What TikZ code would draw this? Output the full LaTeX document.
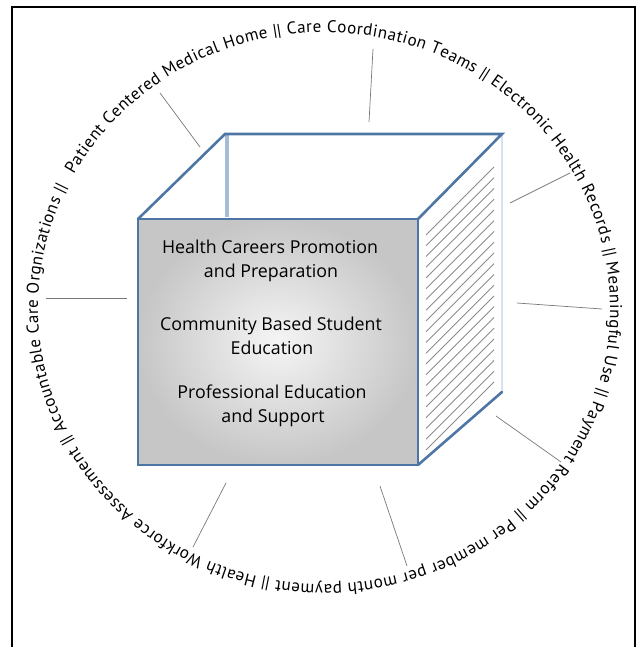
\documentclass[tikz,border=0pt]{standalone}
\usepackage{fontspec}
\setmainfont{PT Sans}
\newfontfamily\facefont{Open Sans}
\usetikzlibrary{decorations.text}
\definecolor{edgeblue}{RGB}{78,118,165}
\definecolor{lightedge}{RGB}{165,188,215}
\definecolor{paleedge}{RGB}{215,226,238}
\definecolor{hatchgray}{RGB}{140,140,140}
\definecolor{leadgray}{RGB}{120,120,120}
\definecolor{faceouter}{RGB}{198,198,198}
\definecolor{faceinner}{RGB}{245,245,245}
\begin{document}
\begin{tikzpicture}[x=1pt,y=1pt,
  frame/.style={draw=black, line width=2.6pt},
  cubeedge/.style={draw=edgeblue, line width=2.6pt, line cap=round},
  hiddenedge/.style={draw=lightedge, line width=3.5pt},
  backedge/.style={draw=paleedge, line width=2pt},
  hatchline/.style={draw=hatchgray, line width=0.9pt},
  leader/.style={draw=leadgray, line width=0.7pt},
  facetext/.style={font=\facefont\fontsize{17.8}{21}\selectfont, anchor=base, inner sep=0pt}
]
\useasboundingbox (0,0) rectangle (639,-647);
% outer frame (bottom edge lies below the picture)
\draw[frame] (12,-7) rectangle (635,-680);

% hatch on right face
\foreach \k in {0,...,20}{
  \draw[hatchline] (426,{-235-10.75*\k}) -- ++(68,68);
}
% right back vertical edge
\draw[backedge] (502,-134) -- (502,-392);
% hidden vertical edge
\draw[hiddenedge] (227,-134) -- (227,-217);
% top face edges
\draw[cubeedge] (138,-219) -- (225,-134) -- (502,-134) -- (418,-219);
% right face bottom edge
\draw[cubeedge] (418,-465) -- (502,-392);
% front face
\shade[inner color=faceinner, outer color=faceouter] (138,-219) rectangle (418,-465);
\draw[draw=edgeblue, line width=2pt] (138,-219) rectangle (418,-465);

% front face texts
\node[facetext] (t1) at (270,-253) {Health Careers Promotion};
\node[facetext] (t2) at (271,-277) {and Preparation};
\node[facetext] (t3) at (271,-330) {Community Based Student};
\node[facetext] (t4) at (272,-354) {Education};
\node[facetext] (t5) at (272,-398) {Professional Education};
\node[facetext] (t6) at (273,-422) {and Support};

% leader lines
\coordinate (a1) at (160,-93);  \coordinate (b1) at (200,-147);
\coordinate (a2) at (373,-49);  \coordinate (b2) at (369,-122);
\coordinate (a3) at (570,-173); \coordinate (b3) at (510,-203);
\coordinate (a4) at (602,-309); \coordinate (b4) at (517,-303);
\coordinate (a5) at (561,-462); \coordinate (b5) at (496,-416);
\coordinate (a6) at (407,-566); \coordinate (b6) at (380,-486);
\coordinate (a7) at (193,-547); \coordinate (b7) at (226,-483);
\coordinate (a8) at (46,-298);  \coordinate (b8) at (127,-298);
\foreach \i in {1,...,8}{\draw[leader] (a\i) -- (b\i);}

% text around the ellipse
\path[decorate, decoration={text along path,
  text format delimiters={<}{>},
  text align={fit to path},
  text={<\fontsize{17}{20}\selectfont>Patient Centered Medical Home {||} Care Coordination Teams {||} Electronic Health Records {||} Meaningful Use {||} Payment Reform {||} Per member per month payment {||} Health Workforce Assessment {||} Accountable Care Orgnizations {||}}}]
  (73.86,-174.69) arc[start angle=151, end angle=-206, x radius=286, y radius=276];
\end{tikzpicture}
\end{document}
